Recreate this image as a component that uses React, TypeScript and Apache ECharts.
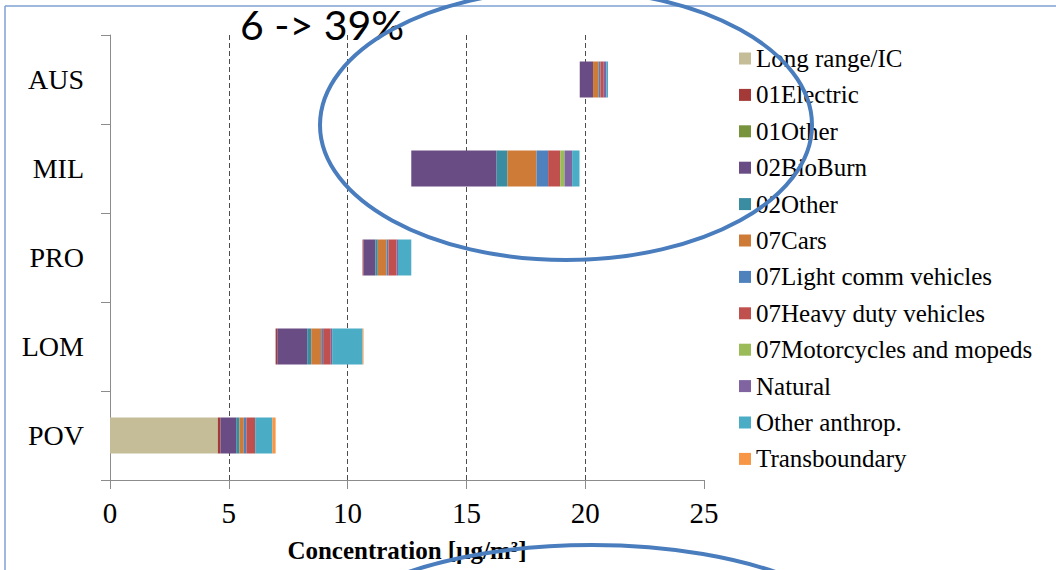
import React, { useEffect, useRef } from "react";
import * as echarts from "echarts";

// Sites, bottom to top on the category axis
const sites = ["POV", "LOM", "PRO", "MIL", "AUS"];
// Concentration where each site's bar begins (µg/m³)
const barStart = [0, 6.97, 10.63, 12.68, 19.77];

// Source contributions per site (POV, LOM, PRO, MIL, AUS), µg/m³
const longRangeIC = [4.54, 0, 0, 0, 0];
const electric01 = [0.11, 0.07, 0.04, 0, 0];
const other01 = [0, 0, 0, 0, 0];
const bioBurn02 = [0.66, 1.26, 0.5, 3.59, 0.56];
const other02 = [0.14, 0.17, 0.1, 0.46, 0];
const cars07 = [0.18, 0.42, 0.37, 1.22, 0.24];
const lightComm07 = [0.11, 0.08, 0.08, 0.49, 0.07];
const heavyDuty07 = [0.37, 0.32, 0.34, 0.51, 0.14];
const motorcycles07 = [0, 0, 0, 0.18, 0];
const natural = [0, 0.06, 0.06, 0.32, 0.11];
const otherAnthrop = [0.72, 1.28, 0.56, 0.31, 0.07];
const transboundary = [0.14, 0.04, 0, 0, 0];

const sourceNames = [
  "Long range/IC",
  "01Electric",
  "01Other",
  "02BioBurn",
  "02Other",
  "07Cars",
  "07Light comm vehicles",
  "07Heavy duty vehicles",
  "07Motorcycles and mopeds",
  "Natural",
  "Other anthrop.",
  "Transboundary",
];
const sourceValues = [
  longRangeIC,
  electric01,
  other01,
  bioBurn02,
  other02,
  cars07,
  lightComm07,
  heavyDuty07,
  motorcycles07,
  natural,
  otherAnthrop,
  transboundary,
];
const sourceColors = [
  "#C4BD97",
  "#A33A37",
  "#77933C",
  "#684C83",
  "#3A8CA0",
  "#CE7B38",
  "#4F81BD",
  "#C0504D",
  "#9BBB59",
  "#8064A2",
  "#4BACC6",
  "#F79646",
];

const axisMin = 0;
const axisMax = 25;
const axisStep = 5;

const serif = "Liberation Serif";
const ringBlue = "#4A7DBD";

export default function App() {
  const ref = useRef<HTMLDivElement>(null);

  useEffect(() => {
    if (!ref.current) return;
    const chart = echarts.init(ref.current, undefined, { renderer: "svg" });

    const series: any[] = [
      {
        name: "base",
        type: "bar",
        stack: "total",
        barWidth: 36,
        silent: true,
        itemStyle: { color: "rgba(0,0,0,0)" },
        data: barStart,
      },
      ...sourceNames.map((name, i) => ({
        name,
        type: "bar",
        stack: "total",
        barWidth: 36,
        itemStyle: { color: sourceColors[i] },
        data: sourceValues[i],
      })),
    ];

    chart.setOption({
      animation: false,
      backgroundColor: "#ffffff",
      textStyle: { fontFamily: serif },
      grid: { left: 110, right: 352, top: 35, bottom: 90, containLabel: false },
      legend: {
        orient: "vertical",
        left: 739,
        top: 46,
        padding: 0,
        itemWidth: 12,
        itemHeight: 12,
        itemGap: 11.4,
        icon: "rect",
        selectedMode: false,
        data: sourceNames,
        textStyle: { fontFamily: serif, fontSize: 25, lineHeight: 25, color: "#000" },
      },
      xAxis: {
        type: "value",
        min: axisMin,
        max: axisMax,
        interval: axisStep,
        name: "Concentration [µg/m³]",
        nameLocation: "middle",
        nameGap: 58,
        nameTextStyle: { fontFamily: serif, fontSize: 25, fontWeight: "bold", color: "#000" },
        axisLine: { show: true, lineStyle: { color: "#8C8C8C", width: 1 } },
        axisTick: { show: true, length: 9, lineStyle: { color: "#8C8C8C" } },
        axisLabel: { fontFamily: serif, fontSize: 29, color: "#000", margin: 18 },
        splitLine: {
          show: true,
          showMinLine: false,
          showMaxLine: false,
          lineStyle: { color: "#4D4D4D", type: [5, 3], width: 1 },
        },
      },
      yAxis: {
        type: "category",
        data: sites,
        axisLine: { show: true, lineStyle: { color: "#8C8C8C", width: 1 } },
        axisTick: { show: true, length: 9, lineStyle: { color: "#8C8C8C" } },
        axisLabel: { fontFamily: serif, fontSize: 28, color: "#000", margin: 26 },
        splitLine: { show: false },
      },
      series,
      graphic: [
        {
          type: "line",
          z: 90,
          shape: { x1: 5, y1: 6, x2: 1056, y2: 6 },
          style: { stroke: "#7EA2D2", lineWidth: 1.5 },
        },
        {
          type: "line",
          z: 90,
          shape: { x1: 5, y1: 6, x2: 5, y2: 570 },
          style: { stroke: "#7EA2D2", lineWidth: 1.5 },
        },
        {
          type: "text",
          z: 100,
          left: 240,
          top: 4,
          style: {
            text: "6 -> 39%",
            fontFamily: "Lato",
            fontSize: 41,
            fill: "#000",
          },
        },
        {
          type: "ellipse",
          z: 100,
          shape: { cx: 566, cy: 125, rx: 246, ry: 135 },
          style: { fill: "none", stroke: ringBlue, lineWidth: 4 },
        },
        {
          type: "ellipse",
          z: 100,
          shape: { cx: 592, cy: 660, rx: 285, ry: 115 },
          style: { fill: "none", stroke: ringBlue, lineWidth: 4 },
        },
      ],
    });

    return () => chart.dispose();
  }, []);

  return (
    <div
      ref={ref}
      style={{ position: "fixed", left: 0, top: 0, width: 1056, height: 570 }}
    />
  );
}
